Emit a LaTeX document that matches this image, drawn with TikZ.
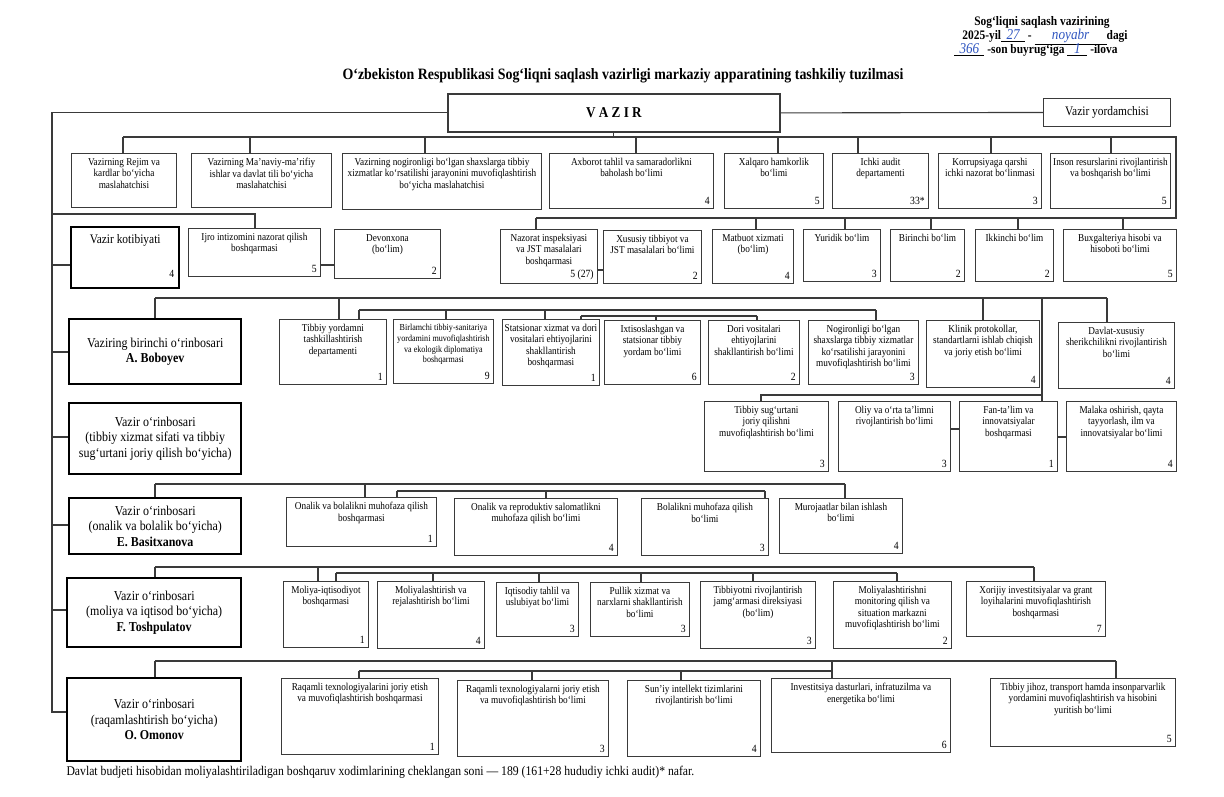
\documentclass[tikz,border=0pt]{standalone}
\usepackage{fontspec}
\setmainfont{Liberation Serif}[FakeStretch=0.88]
\usetikzlibrary{positioning,calc}
\definecolor{orgline}{HTML}{3A3A3A}
\definecolor{orgink}{HTML}{2F55C0}
\tikzstyle{unitbox} = [rectangle, draw=orgline, line width=0.9pt, inner sep=0pt]
\tikzstyle{unittext} = [align=center, inner sep=2pt, yshift=-3pt, font=\fontsize{10.5}{11.5}\selectfont]
\tikzstyle{unitnum} = [inner sep=4pt, font=\fontsize{11}{12}\selectfont]
\tikzstyle{chief} = [rectangle, draw=black, line width=2.4pt, align=center, inner sep=2pt, font=\fontsize{13.6}{15.5}\selectfont]
\tikzstyle{link} = [draw=orgline, line width=1.1pt]
\tikzstyle{hdr} = [inner sep=0pt, font=\bfseries\fontsize{13}{14}\selectfont]
% box with top text and staff number in the corner
\newcommand{\orgunit}[8][]{%
  \node[unitbox, anchor=north west, minimum width={(#5-#3)*1pt}, minimum height={(#6-#4)*1pt}] (#2) at (#3,#4) {};
  \node[unittext, anchor=north, #1] (#2-t) at (#2.north) {#7};
  \node[unitnum, anchor=south east] (#2-n) at (#2.south east) {#8};
}
\newcommand{\hand}[2]{\underline{\makebox[#1pt]{\textcolor{orgink}{\fontsize{15}{15}\selectfont\mdseries\itshape #2}}}}

\begin{document}
\begin{tikzpicture}[x=1pt, y=-1pt]
\fill[white] (0,0) rectangle (1224,796);
\useasboundingbox (0,0) rectangle (1224,796);

% header
\node[hdr] (hdrA) at (1042,22) {Sog‘liqni saqlash vazirining};
\node[hdr] (hdrB) at (1045,37) {2025-yil\hand{24}{27} - \hand{72}{noyabr}dagi};
\node[hdr] (hdrC) at (1036,50) {\hand{30}{366} -son buyrug‘iga \hand{20}{1} -ilova};
\node[font=\bfseries\fontsize{15.8}{17}\selectfont] (title) at (623,76) {O‘zbekiston Respublikasi Sog‘liqni saqlash vazirligi markaziy apparatining tashkiliy tuzilmasi};

\node[draw=orgline, line width=1.8pt, anchor=north west, minimum width=332pt, minimum height=38pt, font=\bfseries\fontsize{15}{17}\selectfont] (vazir) at (447,93) {V~A~Z~I~R};
\node[unitbox, anchor=north west, minimum width=127pt, minimum height=28pt, font=\fontsize{13}{15}\selectfont] (yordam) at (1043,98) {Vazir yordamchisi};

% row 1
\orgunit{adv1}{71}{153}{176}{207}{Vazirning Rejim va\\kardlar bo‘yicha\\maslahatchisi}{}
\orgunit{adv2}{191}{153}{331}{207}{Vazirning Ma’naviy-ma’rifiy\\ishlar va davlat tili bo‘yicha\\maslahatchisi}{}
\orgunit{adv3}{342}{153}{541}{209}{Vazirning nogironligi bo‘lgan shaxslarga tibbiy\\xizmatlar ko‘rsatilishi jarayonini muvofiqlashtirish\\bo‘yicha maslahatchisi}{}
\orgunit{axb}{549}{153}{713}{208}{Axborot tahlil va samaradorlikni\\baholash bo‘limi}{4}
\orgunit{xal}{724}{153}{823}{208}{Xalqaro hamkorlik\\bo‘limi}{5}
\orgunit{aud}{832}{153}{928}{208}{Ichki audit\\departamenti}{33*}
\orgunit{kor}{938}{153}{1041}{208}{Korrupsiyaga qarshi\\ichki nazorat bo‘linmasi}{3}
\orgunit{ins}{1050}{153}{1170}{208}{Inson resurslarini rivojlantirish\\va boshqarish bo‘limi}{5}

% row 2
\node[chief, anchor=north west, minimum width=108pt, minimum height=61pt] (kotib) at (70,226) {};
\node[anchor=north, font=\fontsize{13}{15}\selectfont] (kotib-t) at ($(kotib.north)+(0,5)$) {Vazir kotibiyati};
\node[unitnum, anchor=south east] (kotib-n) at ($(kotib.south east)+(-2,-8)$) {4};
\orgunit{ijro}{188}{228}{320}{276}{Ijro intizomini nazorat qilish\\boshqarmasi}{5}
\orgunit{devon}{334}{229}{440}{278}{Devonxona\\(bo‘lim)}{2}
\orgunit{naz}{500}{229}{597}{283}{Nazorat inspeksiyasi\\va JST masalalari\\boshqarmasi}{5 (27)}
\orgunit{xus}{603}{230}{701}{283}{Xususiy tibbiyot va\\JST masalalari bo‘limi}{2}
\orgunit{mat}{712}{229}{793}{283}{Matbuot xizmati\\(bo‘lim)}{4}
\orgunit{yur}{803}{229}{880}{281}{Yuridik bo‘lim}{3}
\orgunit{bir}{890}{229}{964}{281}{Birinchi bo‘lim}{2}
\orgunit{ikk}{975}{229}{1053}{281}{Ikkinchi bo‘lim}{2}
\orgunit{bux}{1063}{229}{1176}{281}{Buxgalteriya hisobi va\\hisoboti bo‘limi}{5}

% row 3
\node[chief, anchor=north west, minimum width=172pt, minimum height=65pt] (dBoboyev) at (68,318) {Vaziring birinchi o‘rinbosari\\\textbf{A. Boboyev}};
\orgunit{tyt}{279}{319}{386}{384}{Tibbiy yordamni\\tashkillashtirish\\departamenti}{1}
\orgunit[font=\fontsize{9.2}{10.8}\selectfont]{birl}{393}{319}{493}{383}{Birlamchi tibbiy-sanitariya\\yordamini muvofiqlashtirish\\va ekologik diplomatiya\\boshqarmasi}{9}
\orgunit{stat}{502}{319}{599}{385}{Statsionar xizmat va dori\\vositalari ehtiyojlarini\\shakllantirish\\boshqarmasi}{1}
\orgunit{ixt}{604}{320}{700}{384}{Ixtisoslashgan va\\statsionar tibbiy\\yordam bo‘limi}{6}
\orgunit{dori}{708}{320}{799}{384}{Dori vositalari\\ehtiyojlarini\\shakllantirish bo‘limi}{2}
\orgunit{nogi}{808}{320}{918}{384}{Nogironligi bo‘lgan\\shaxslarga tibbiy xizmatlar\\ko‘rsatilishi jarayonini\\muvofiqlashtirish bo‘limi}{3}
\orgunit{klin}{926}{320}{1039}{387}{Klinik protokollar,\\standartlarni ishlab chiqish\\va joriy etish bo‘limi}{4}
\orgunit{dxs}{1058}{322}{1174}{388}{Davlat-xususiy\\sherikchilikni rivojlantirish\\bo‘limi}{4}

% row 4
\node[chief, anchor=north west, minimum width=172pt, minimum height=71pt] (dSifat) at (68,402) {Vazir o‘rinbosari\\(tibbiy xizmat sifati va tibbiy\\sug‘urtani joriy qilish bo‘yicha)};
\orgunit{tsug}{704}{401}{828}{471}{Tibbiy sug‘urtani\\joriy qilishni\\muvofiqlashtirish bo‘limi}{3}
\orgunit{oliy}{838}{401}{950}{471}{Oliy va o‘rta ta’limni\\rivojlantirish bo‘limi}{3}
\orgunit{fan}{959}{401}{1057}{471}{Fan-ta’lim va\\innovatsiyalar\\boshqarmasi}{1}
\orgunit{mal}{1066}{401}{1176}{471}{Malaka oshirish, qayta\\tayyorlash, ilm va\\innovatsiyalar bo‘limi}{4}

% row 5
\node[chief, anchor=north west, minimum width=172pt, minimum height=56pt] (dBasit) at (68,497) {Vazir o‘rinbosari\\(onalik va bolalik bo‘yicha)\\\textbf{E. Basitxanova}};
\orgunit{onb}{286}{497}{436}{546}{Onalik va bolalikni muhofaza qilish\\boshqarmasi}{1}
\orgunit{repr}{454}{498}{617}{555}{Onalik va reproduktiv salomatlikni\\muhofaza qilish bo‘limi}{4}
\orgunit{bolal}{641}{498}{768}{555}{Bolalikni muhofaza qilish\\bo‘limi}{3}
\orgunit{muroj}{779}{498}{902}{553}{Murojaatlar bilan ishlash\\bo‘limi}{4}

% row 6
\node[chief, anchor=north west, minimum width=174pt, minimum height=69pt] (dToshp) at (66,577) {Vazir o‘rinbosari\\(moliya va iqtisod bo‘yicha)\\\textbf{F. Toshpulatov}};
\orgunit{mliq}{283}{581}{368}{647}{Moliya-iqtisodiyot\\boshqarmasi}{1}
\orgunit{mrej}{377}{581}{484}{648}{Moliyalashtirish va\\rejalashtirish bo‘limi}{4}
\orgunit{iqt}{496}{582}{578}{636}{Iqtisodiy tahlil va\\uslubiyat bo‘limi}{3}
\orgunit{pull}{590}{582}{689}{636}{Pullik xizmat va\\narxlarni shakllantirish\\bo‘limi}{3}
\orgunit{tjam}{700}{581}{815}{648}{Tibbiyotni rivojlantirish\\jamg‘armasi direksiyasi\\(bo‘lim)}{3}
\orgunit{mmon}{833}{581}{951}{648}{Moliyalashtirishni\\monitoring qilish va\\situation markazni\\muvofiqlashtirish bo‘limi}{2}
\orgunit{xor}{966}{581}{1105}{636}{Xorijiy investitsiyalar va grant\\loyihalarini muvofiqlashtirish\\boshqarmasi}{7}

% row 7
\node[chief, anchor=north west, minimum width=174pt, minimum height=83pt] (dOmonov) at (66,677) {Vazir o‘rinbosari\\(raqamlashtirish bo‘yicha)\\\textbf{O. Omonov}};
\orgunit{raqb}{281}{678}{438}{754}{Raqamli texnologiyalarini joriy etish\\va muvofiqlashtirish boshqarmasi}{1}
\orgunit{raqo}{457}{680}{608}{756}{Raqamli texnologiyalarni joriy etish\\va muvofiqlashtirish bo‘limi}{3}
\orgunit{suniy}{627}{680}{760}{756}{Sun’iy intellekt tizimlarini\\rivojlantirish bo‘limi}{4}
\orgunit{inv}{771}{678}{950}{752}{Investitsiya dasturlari, infratuzilma va\\energetika bo‘limi}{6}
\orgunit{tjih}{990}{678}{1175}{746}{Tibbiy jihoz, transport hamda insonparvarlik\\yordamini muvofiqlashtirish va hisobini\\yuritish bo‘limi}{5}

\node[anchor=west, font=\fontsize{13.3}{15}\selectfont] (note) at (63,772) {Davlat budjeti hisobidan moliyalashtiriladigan boshqaruv xodimlarining cheklangan soni — 189 (161+28 hududiy ichki audit)* nafar.};

% minister lines and left spine
\draw[link] (vazir.east) -- (yordam.west);
\draw[link] (vazir.west) -| (52,712) -- (52,712 -| dOmonov.west);
\foreach \y/\n in {265/kotib, 352/dBoboyev, 437/dSifat, 525/dBasit, 610/dToshp}
  \draw[link] (52,\y) -- (52,\y -| \n.west);
\draw[link] (52,214) -| (255,214 |- ijro.north);
\draw[link] (ijro.east |- 0,265) -- (devon.west |- 0,265);

% rows 1 and 2
\draw[link] (vazir.south) -- (vazir.south |- 0,137);
\draw[link] (123,137) -- (1176,137) -- (1176,218) -- (536,218);
\foreach \x/\n in {123/adv1, 250/adv2, 425/adv3, 636/axb, 778/xal, 858/aud, 991/kor, 1111/ins}
  \draw[link] (\x,137) -- (\x,137 |- \n.north);
\foreach \x/\n in {536/naz, 756/mat, 845/yur, 931/bir, 1018/ikk, 1123/bux}
  \draw[link] (\x,218) -- (\x,218 |- \n.north);
\draw[link] (naz.east |- 0,270) -- (xus.west |- 0,270);

% first deputy
\draw[link] (155,298) -- (1107,298);
\foreach \x/\n in {155/dBoboyev, 339/tyt, 983/klin, 1107/dxs, 1042/fan}
  \draw[link] (\x,298) -- (\x,298 |- \n.north);
\draw[link] (359,310) -- (876,310);
\foreach \x/\n in {359/tyt, 446/birl, 545/stat, 876/nogi}
  \draw[link] (\x,310) -- (\x,310 |- \n.north);
\draw[link] (581,316) -- (757,316);
\foreach \x/\n in {581/stat, 656/ixt, 757/dori}
  \draw[link] (\x,316) -- (\x,316 |- \n.north);
\draw[link] (1042,395) -| (761,395 |- tsug.north);
\draw[link] (oliy.east |- 0,429) -- (fan.west |- 0,429);
\draw[link] (fan.east |- 0,437) -- (mal.west |- 0,437);

% onalik va bolalik
\draw[link] (155,484) -- (845,484);
\foreach \x/\n in {155/dBasit, 365/onb, 845/muroj}
  \draw[link] (\x,484) -- (\x,484 |- \n.north);
\draw[link] (397,491) -- (765,491);
\foreach \x/\n in {397/onb, 546/repr, 765/bolal}
  \draw[link] (\x,491) -- (\x,491 |- \n.north);

% moliya va iqtisod
\draw[link] (155,567) -- (1034,567);
\foreach \x/\n in {155/dToshp, 318/mliq, 1034/xor}
  \draw[link] (\x,567) -- (\x,567 |- \n.north);
\draw[link] (336,573) -- (897,573);
\foreach \x/\n in {336/mliq, 433/mrej, 539/iqt, 641/pull, 753/tjam, 897/mmon}
  \draw[link] (\x,573) -- (\x,573 |- \n.north);

% raqamlashtirish
\draw[link] (155,661) -- (1116,661);
\foreach \x/\n in {155/dOmonov, 832/inv, 1116/tjih}
  \draw[link] (\x,661) -- (\x,661 |- \n.north);
\draw[link] (359,671) -- (832,671);
\foreach \x/\n in {359/raqb, 532/raqo, 681/suniy}
  \draw[link] (\x,671) -- (\x,671 |- \n.north);
\end{tikzpicture}
\end{document}
